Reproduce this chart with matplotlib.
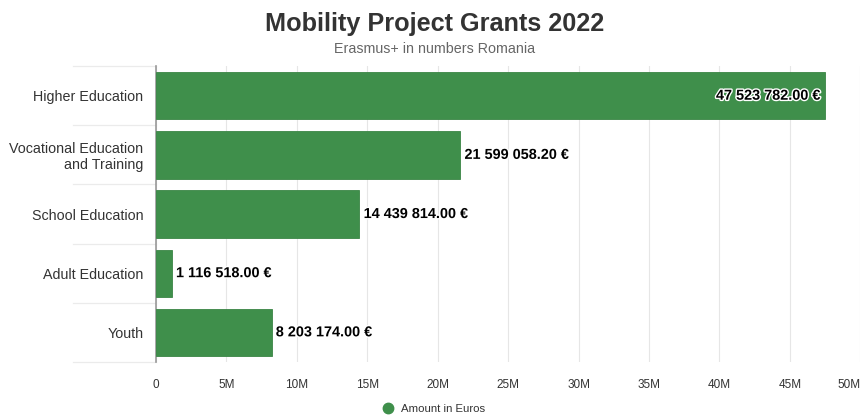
import matplotlib
matplotlib.use('Agg')
from matplotlib import pyplot as plt, patheffects as pe
from matplotlib.lines import Line2D

categories = ['Higher Education', 'Vocational Education\nand Training', 'School Education',
              'Adult Education', 'Youth']
amounts = [47523782.00, 21599058.20, 14439814.00, 1116518.00, 8203174.00]
x_ticks = [0, 5e6, 10e6, 15e6, 20e6, 25e6, 30e6, 35e6, 40e6, 45e6, 50e6]
x_tick_labels = ['0', '5M', '10M', '15M', '20M', '25M', '30M', '35M', '40M', '45M', '50M']

plt.rcParams['font.family'] = ['Liberation Sans', 'DejaVu Sans']

BAR_COLOR = '#3f8f4b'


def fmt_euro(v):
    return f'{v:,.2f}'.replace(',', ' ') + ' €'


fig = plt.figure(figsize=(8.62, 4.16), dpi=100)
ax = fig.add_axes([0.181, 0.130, 0.817, 0.711])

ypos = list(range(len(categories)))
ax.barh(ypos, amounts, height=0.8, color=BAR_COLOR, edgecolor='#3a8545', linewidth=0.6, zorder=3)
ax.set_ylim(len(categories) - 0.5, -0.5)
ax.set_xlim(0, 50e6)
ax.set_yticks(ypos)
ax.set_yticklabels(categories, fontsize=10.3, color='#333333', linespacing=1.15)
ax.set_xticks(x_ticks)
ax.set_xticklabels(x_tick_labels)
ax.get_xticklabels()[-1].set_horizontalalignment('right')
ax.tick_params(axis='x', length=0, labelsize=8.5, colors='#333333', pad=12)
ax.tick_params(axis='y', length=0, pad=9)
ax.grid(axis='x', color='#e6e6e6', linewidth=0.8, zorder=0)

for s in ['top', 'right', 'bottom']:
    ax.spines[s].set_visible(False)
ax.spines['left'].set_color('#999999')
ax.spines['left'].set_linewidth(1.2)

# separators between categories in the label area
tr = ax.get_yaxis_transform()
for i in range(len(categories) + 1):
    ax.add_line(Line2D([-0.118, 0], [i - 0.5, i - 0.5], transform=tr, color='#ebebeb',
                       linewidth=0.9, clip_on=False))

outline = [pe.withStroke(linewidth=2, foreground='white')]
for y, v in zip(ypos, amounts):
    if v > 40e6:
        ax.text(v - 0.35e6, y, fmt_euro(v), ha='right', va='center', fontsize=10.4,
                fontweight='bold', color='black', path_effects=outline, zorder=4)
    else:
        ax.text(v + 0.3e6, y, fmt_euro(v), ha='left', va='center', fontsize=10.4,
                fontweight='bold', color='black', path_effects=outline, zorder=4)

fig.text(0.504, 0.942, 'Mobility Project Grants 2022', ha='center', va='center',
         fontsize=18.2, fontweight='bold', color='#333333')
fig.text(0.504, 0.883, 'Erasmus+ in numbers Romania', ha='center', va='center',
         fontsize=10.3, color='#666666')

handle = Line2D([], [], marker='o', linestyle='', markersize=7.5, color=BAR_COLOR)
fig.legend([handle], ['Amount in Euros'], loc='center', bbox_to_anchor=(0.5, 0.018),
           frameon=False, fontsize=8.2, handletextpad=0.2, labelcolor='#333333')

plt.savefig('out.png', dpi=100)
plt.close()
